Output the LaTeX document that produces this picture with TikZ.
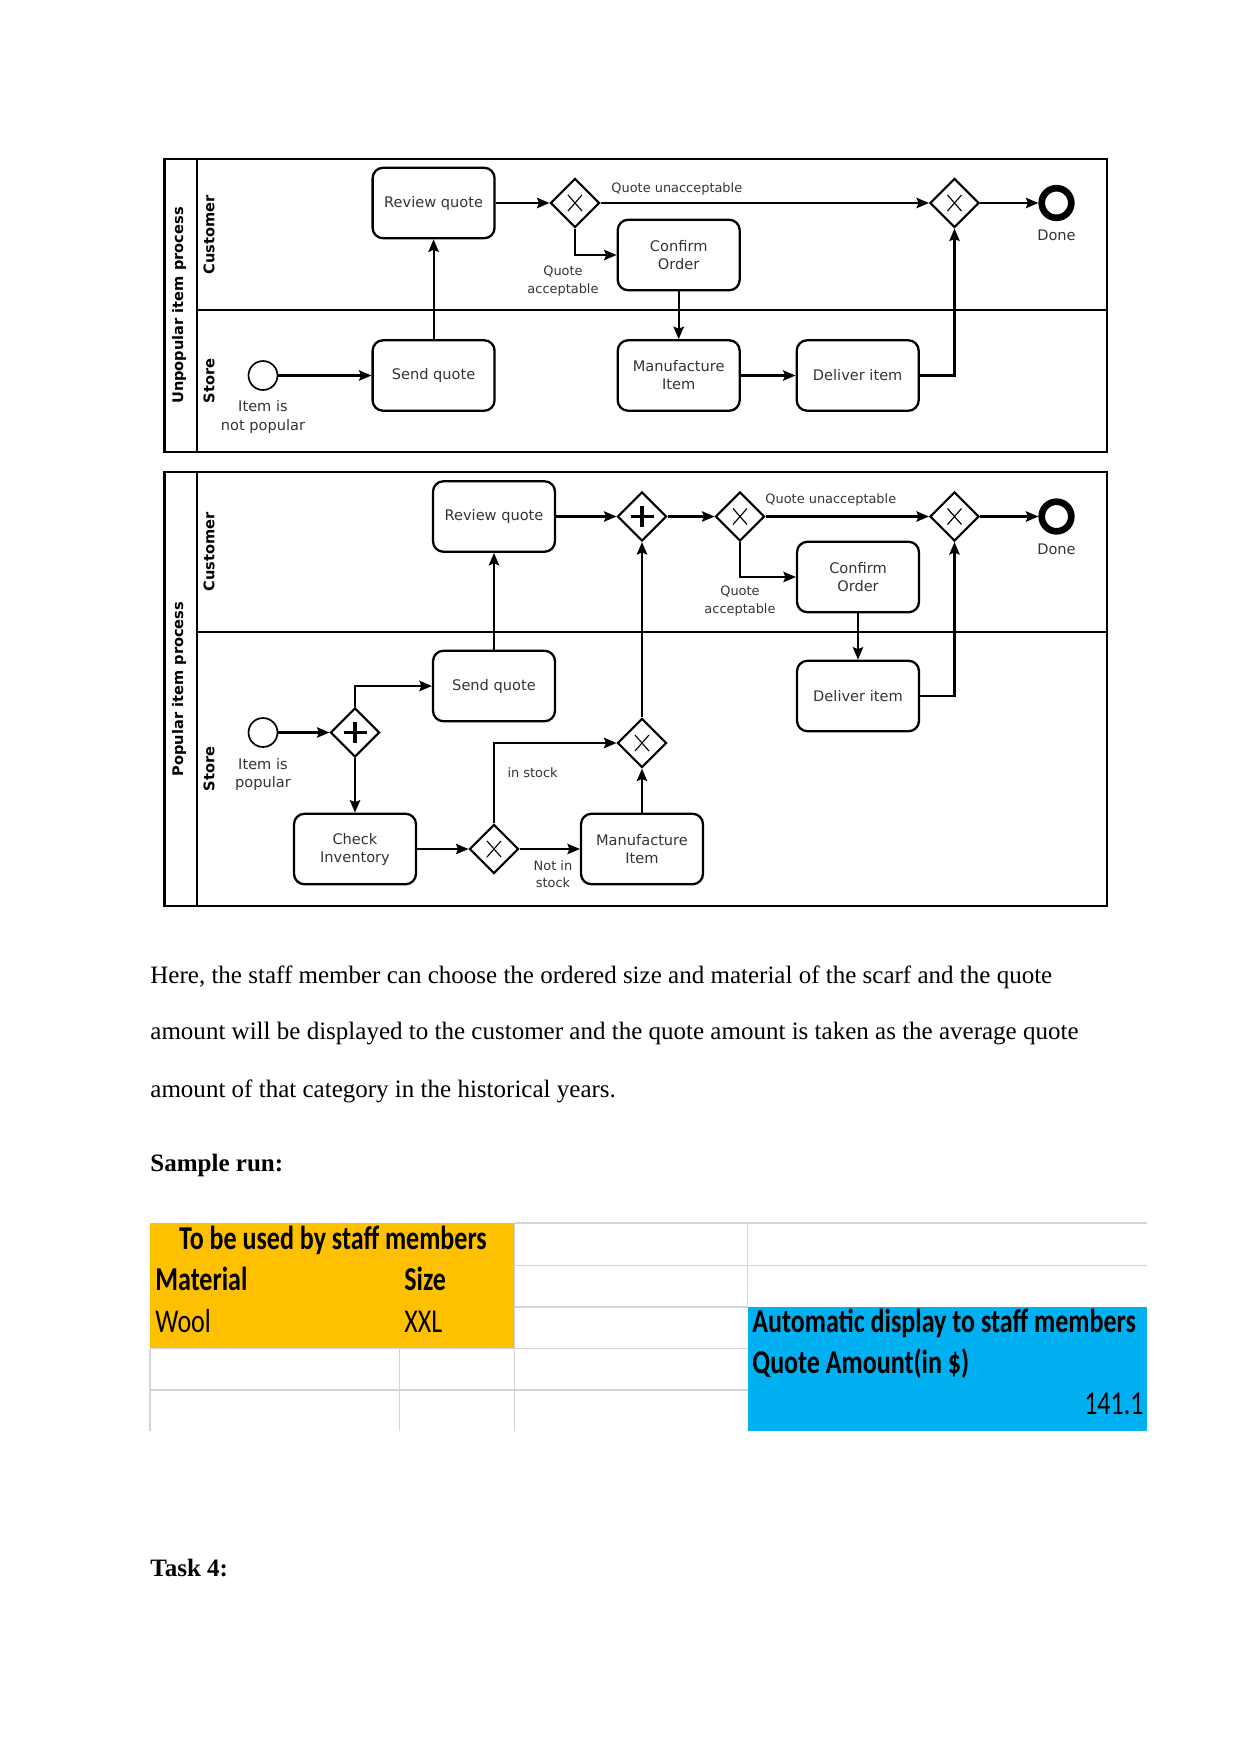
\documentclass[tikz,border=0pt]{standalone}
\usepackage{fontspec}
\setmainfont{Liberation Serif}
\newfontfamily\bpmnfont{DejaVu Sans}
\newfontfamily\sheetfont[FakeStretch=0.78]{Carlito}
\usetikzlibrary{shapes.geometric,arrows.meta}
\definecolor{sheetorange}{HTML}{FFC000}
\definecolor{sheetblue}{HTML}{00B0F0}
\definecolor{sheetgrid}{HTML}{D4D4D4}
\definecolor{bpmntext}{HTML}{333333}
\begin{document}
\begin{tikzpicture}[x=0.47968pt, y=-0.47968pt,
    task/.style={draw, rounded corners=5pt, line width=1.1pt, minimum width=58.5pt, minimum height=33.8pt,
      align=center, inner sep=1pt, text=bpmntext, font=\bpmnfont\fontsize{7}{8.6}\selectfont},
    gateway/.style={diamond, draw, line width=1pt, minimum width=23.5pt, minimum height=23.5pt, inner sep=0pt},
    xorgw/.style={gateway, path picture={
      \draw[line width=0.55pt] ([shift={(-7,-8)}]path picture bounding box.center) -- ([shift={(7,8)}]path picture bounding box.center)
        ([shift={(-7,8)}]path picture bounding box.center) -- ([shift={(7,-8)}]path picture bounding box.center);}},
    andgw/.style={gateway, path picture={
      \draw[line width=1.7pt] ([shift={(-11.5,0)}]path picture bounding box.center) -- ([shift={(11.5,0)}]path picture bounding box.center)
        ([shift={(0,-10.5)}]path picture bounding box.center) -- ([shift={(0,10.5)}]path picture bounding box.center);}},
    startev/.style={circle, draw, line width=0.8pt, minimum size=13.9pt, inner sep=0pt},
    endev/.style={circle, draw, line width=3.2pt, minimum size=14.2pt, inner sep=0pt},
    flow/.style={-{Stealth[length=6pt,width=5pt,inset=1pt]}, line width=1pt},
    note/.style={align=center, inner sep=0pt, text=bpmntext, font=\bpmnfont\fontsize{6.2}{8.3}\selectfont},
    evnote/.style={align=center, inner sep=0pt, text=bpmntext, font=\bpmnfont\fontsize{7}{8.8}\selectfont},
    pool/.style={rotate=90, inner sep=0pt, font=\bpmnfont\bfseries\fontsize{7}{8}\selectfont},
    sheet/.style={inner sep=0pt, font=\sheetfont\fontsize{16}{18}\selectfont},
    prose/.style={inner sep=0pt, anchor=base west, font=\fontsize{12}{14}\selectfont}]
  \useasboundingbox (0,0) rectangle (1241,1754);

  % unpopular item process: pool and lanes
  \draw[line width=1.1pt] (164.5,159) rectangle (1107,452);
  \draw[line width=1.1pt] (197,159) -- (197,452);
  \draw[line width=1.1pt] (197,310) -- (1107,310);
  \node[pool] at (179,305.5) {Unpopular item process};
  \node[pool] at (209,235) {Customer};
  \node[pool] at (209,381) {Store};

  % unpopular: elements
  \node[startev] (u-start) at (263,375.5) {};
  \node[evnote] at (263,417) {Item is\\not popular};
  \node[task] (u-send) at (433.6,375.5) {Send quote};
  \node[task] (u-review) at (433.6,203) {Review quote};
  \node[xorgw] (u-choice) at (575,203) {};
  \node[task] (u-confirm) at (678.7,255) {Confirm\\Order};
  \node[task] (u-make) at (678.7,375.5) {Manufacture\\Item};
  \node[task] (u-deliver) at (857.7,375.5) {Deliver item};
  \node[xorgw] (u-join) at (954.5,203) {};
  \node[endev] (u-done) at (1056.5,203) {};
  \node[evnote] at (1056.5,235) {Done};

  % unpopular: flows
  \draw[flow] (u-start) -- (u-send);
  \draw[flow] (u-send) -- (u-review);
  \draw[flow] (u-review) -- (u-choice);
  \draw[flow] (u-choice) -- (u-join);
  \node[note, anchor=west] at (611,189) {Quote unacceptable};
  \draw[flow] (u-choice.south) |- (u-confirm.west);
  \node[note] at (563,281) {Quote\\acceptable};
  \draw[flow] (u-confirm) -- (u-make);
  \draw[flow] (u-make) -- (u-deliver);
  \draw[flow] (u-deliver.east) -| (u-join.south);
  \draw[flow] (u-join) -- (u-done);

  % popular item process: pool and lanes
  \draw[line width=1.1pt] (164.5,472) rectangle (1107,906);
  \draw[line width=1.1pt] (197,472) -- (197,906);
  \draw[line width=1.1pt] (197,632) -- (1107,632);
  \node[pool] at (179,689) {Popular item process};
  \node[pool] at (209,552) {Customer};
  \node[pool] at (209,769) {Store};

  % popular: elements
  \node[startev] (p-start) at (263,732.5) {};
  \node[evnote] at (263,774.5) {Item is\\popular};
  \node[andgw] (p-split) at (355,732.5) {};
  \node[task] (p-send) at (494,686) {Send quote};
  \node[task] (p-review) at (494,516.5) {Review quote};
  \node[task] (p-check) at (355,849) {Check\\Inventory};
  \node[xorgw] (p-stock) at (494,849) {};
  \node[task] (p-make) at (642,849) {Manufacture\\Item};
  \node[xorgw] (p-merge) at (642,743) {};
  \node[andgw] (p-sync) at (642,516.5) {};
  \node[xorgw] (p-choice) at (740,516.5) {};
  \node[task] (p-confirm) at (858,577) {Confirm\\Order};
  \node[task] (p-deliver) at (858,696) {Deliver item};
  \node[xorgw] (p-join) at (954.5,516.5) {};
  \node[endev] (p-done) at (1056.5,516.5) {};
  \node[evnote] at (1056.5,549.5) {Done};

  % popular: flows
  \draw[flow] (p-start) -- (p-split);
  \draw[flow] (p-split.north) |- (p-send.west);
  \draw[flow] (p-split) -- (p-check);
  \draw[flow] (p-check) -- (p-stock);
  \draw[flow] (p-stock) -- (p-make);
  \node[note] at (553,874.5) {Not in\\stock};
  \draw[flow] (p-stock.north) |- (p-merge.west);
  \node[note] at (532.6,773) {in stock};
  \draw[flow] (p-make) -- (p-merge);
  \draw[flow] (p-merge) -- (p-sync);
  \draw[flow] (p-send) -- (p-review);
  \draw[flow] (p-review) -- (p-sync);
  \draw[flow] (p-sync) -- (p-choice);
  \draw[flow] (p-choice) -- (p-join);
  \node[note, anchor=west] at (765,500) {Quote unacceptable};
  \draw[flow] (p-choice.south) |- (p-confirm.west);
  \node[note] at (740,601) {Quote\\acceptable};
  \draw[flow] (p-confirm) -- (p-deliver);
  \draw[flow] (p-deliver.east) -| (p-join.south);
  \draw[flow] (p-join) -- (p-done);

  % text below the diagram
  \node[prose] at (150,983) {Here, the staff member can choose the ordered size and material of the scarf and the quote};
  \node[prose] at (150,1039) {amount will be displayed to the customer and the quote amount is taken as the average quote};
  \node[prose] at (150,1097) {amount of that category in the historical years.};
  \node[prose] at (150,1171) {\bfseries Sample run:};

  % spreadsheet
  \fill[sheetorange] (150,1223) rectangle (514.7,1348.5);
  \fill[sheetblue] (747.5,1307) rectangle (1147,1431);
  \draw[sheetgrid, line width=0.7pt] (514.7,1223) -- (1147,1223)
    (514.7,1265.6) -- (1147,1265.6)
    (514.7,1307) -- (747.5,1307)
    (150,1348.5) -- (747.5,1348.5)
    (150,1390) -- (747.5,1390)
    (150,1348.5) -- (150,1431)
    (399.5,1348.5) -- (399.5,1431)
    (514.7,1223) -- (514.7,1431)
    (747.5,1223) -- (747.5,1307);
  \node[sheet, anchor=base] at (333,1249) {\bfseries To be used by staff members};
  \node[sheet, anchor=base west] at (155,1290) {\bfseries Material};
  \node[sheet, anchor=base west] at (404,1290) {\bfseries Size};
  \node[sheet, anchor=base west] at (155,1332) {Wool};
  \node[sheet, anchor=base west] at (404,1332) {XXL};
  \node[sheet, anchor=base west] at (752,1332) {\bfseries Automatic display to staff members};
  \node[sheet, anchor=base west] at (752,1373) {\bfseries Quote Amount(in \$)};
  \node[sheet, anchor=base east] at (1144,1414) {141.1};

  \node[prose] at (150,1576) {\bfseries Task 4:};
\end{tikzpicture}
\end{document}
